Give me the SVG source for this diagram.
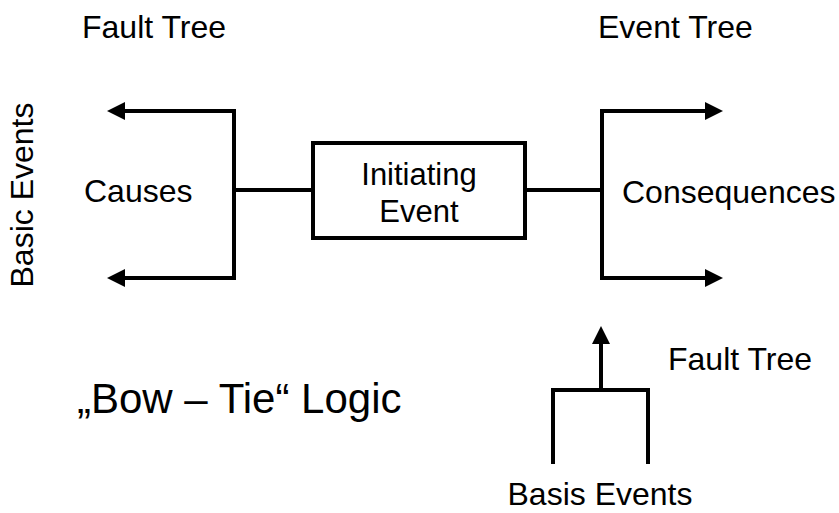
<svg xmlns="http://www.w3.org/2000/svg" width="839" height="513" viewBox="0 0 839 513">
  <style>
    .t { font-family: "Liberation Sans", Arial, sans-serif; font-size: 32px; fill: #000; }
    .ln { fill: none; stroke: #000; stroke-width: 4; stroke-linejoin: miter; stroke-linecap: square; }
  </style>
  <defs>
    <path id="ah" d="M0,0 L-18,-9 L-18,9 z" fill="#000"/>
  </defs>
  <rect width="839" height="513" fill="#fff"/>

  <g id="connectors">
    <path class="ln" d="M234 111 H120"/>
    <path class="ln" d="M234 278 H120"/>
    <path class="ln" d="M234 111 V278"/>
    <path class="ln" d="M234 190 H313"/>
    <path class="ln" d="M525 190 H602"/>
    <path class="ln" d="M602 111 V278"/>
    <path class="ln" d="M602 111 H710"/>
    <path class="ln" d="M602 278 H710"/>
    <path class="ln" d="M601 390 V340"/>
    <path class="ln" d="M553 462 V390 H648 V462"/>
    <use href="#ah" transform="translate(107,111) rotate(180)"/>
    <use href="#ah" transform="translate(107,278) rotate(180)"/>
    <use href="#ah" transform="translate(723,111)"/>
    <use href="#ah" transform="translate(723,278)"/>
    <use href="#ah" transform="translate(601,326) rotate(-90)"/>
  </g>

  <g id="initiating-event">
    <rect x="313" y="143" width="212" height="95" fill="#fff" stroke="#000" stroke-width="4"/>
    <text class="t" x="419" y="185" text-anchor="middle" style="font-size:31px">Initiating</text>
    <text class="t" x="419" y="222" text-anchor="middle" style="font-size:31px">Event</text>
  </g>
  <g id="fault-tree-top"><text class="t" x="82" y="38">Fault Tree</text></g>
  <g id="event-tree"><text class="t" x="598" y="38">Event Tree</text></g>
  <g id="basic-events"><text class="t" transform="translate(33,195) rotate(-90)" text-anchor="middle">Basic Events</text></g>
  <g id="causes"><text class="t" x="84" y="202">Causes</text></g>
  <g id="consequences"><text class="t" x="622" y="203">Consequences</text></g>
  <g id="fault-tree-bottom"><text class="t" x="668" y="370">Fault Tree</text></g>
  <g id="bow-tie-logic"><text class="t" x="77" y="413" style="font-size:42px">„Bow – Tie“ Logic</text></g>
  <g id="basis-events"><text class="t" x="600" y="505" text-anchor="middle">Basis Events</text></g>
</svg>
